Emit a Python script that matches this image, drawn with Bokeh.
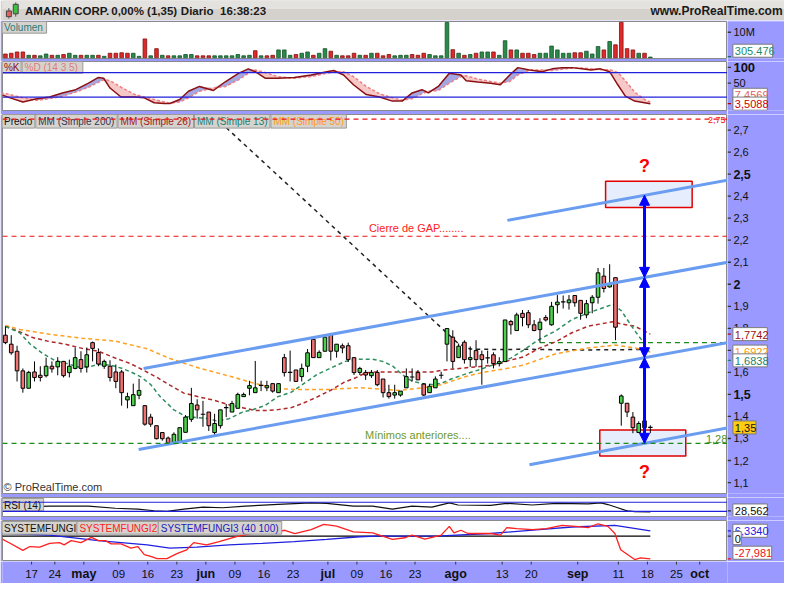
import numpy as np
from bokeh.plotting import figure
from bokeh.layouts import column, row
from bokeh.models import Range1d, Arrow, NormalHead, Span
from bokeh.core.properties import value
from bokeh.embed import file_html
from bokeh.resources import INLINE

# ---------------- data (bar index 0 = 11 Apr 2014, daily bars) ----------------
opens = [1.769, 1.728, 1.696, 1.607, 1.528, 1.602, 1.587, 1.585, 1.628, 1.625,
         1.650, 1.599, 1.618, 1.658, 1.625, 1.735, 1.690, 1.628, 1.628, 1.602,
         1.602, 1.475, 1.449, 1.496, 1.449, 1.397, 1.358, 1.327, 1.302, 1.280,
         1.287, 1.328, 1.387, 1.452, 1.412, 1.420, 1.327, 1.358, 1.437, 1.420,
         1.437, 1.490, 1.528, 1.508, 1.540, 1.530, 1.549, 1.508, 1.667, 1.603,
         1.611, 1.581, 1.628, 1.750, 1.667, 1.696, 1.772, 1.696, 1.721, 1.721,
         1.667, 1.600, 1.600, 1.585, 1.600, 1.570, 1.508, 1.497, 1.497, 1.530,
         1.578, 1.599, 1.547, 1.508, 1.530, 1.589, 1.728, 1.760, 1.667, 1.737,
         1.658, 1.699, 1.680, 1.667, 1.680, 1.640, 1.649, 1.831, 1.790, 1.868,
         1.871, 1.816, 1.794, 1.849, 1.816, 1.907, 1.920, 1.916, 1.949, 1.927,
         1.861, 1.916, 1.941, 2.037, 1.988, 2.030, 1.460, 1.460, 1.397, 1.327,
         1.380, 1.349]
highs = [1.809, 1.769, 1.721, 1.618, 1.607, 1.650, 1.628, 1.667, 1.650, 1.669,
         1.652, 1.658, 1.713, 1.696, 1.713, 1.740, 1.709, 1.658, 1.655, 1.636,
         1.611, 1.508, 1.549, 1.571, 1.452, 1.412, 1.358, 1.327, 1.309, 1.328,
         1.350, 1.406, 1.530, 1.478, 1.471, 1.420, 1.412, 1.430, 1.456, 1.471,
         1.508, 1.508, 1.562, 1.652, 1.562, 1.562, 1.549, 1.549, 1.684, 1.699,
         1.611, 1.640, 1.706, 1.750, 1.700, 1.772, 1.779, 1.728, 1.731, 1.735,
         1.667, 1.625, 1.611, 1.611, 1.611, 1.570, 1.544, 1.544, 1.515, 1.618,
         1.618, 1.611, 1.552, 1.547, 1.582, 1.603, 1.799, 1.791, 1.731, 1.746,
         1.718, 1.746, 1.699, 1.699, 1.691, 1.669, 1.838, 1.838, 1.871, 1.883,
         1.883, 1.838, 1.846, 1.860, 1.920, 1.951, 1.949, 1.951, 1.949, 1.927,
         1.929, 1.951, 2.074, 2.074, 2.091, 2.030, 1.500, 1.460, 1.420, 1.378,
         1.387, 1.360]
lows = [1.728, 1.680, 1.559, 1.508, 1.528, 1.559, 1.559, 1.577, 1.599, 1.587,
        1.577, 1.577, 1.614, 1.599, 1.599, 1.650, 1.628, 1.616, 1.559, 1.528,
        1.449, 1.437, 1.449, 1.478, 1.358, 1.353, 1.296, 1.290, 1.275, 1.280,
        1.287, 1.328, 1.375, 1.390, 1.353, 1.334, 1.316, 1.345, 1.397, 1.420,
        1.437, 1.490, 1.496, 1.508, 1.515, 1.515, 1.508, 1.508, 1.581, 1.559,
        1.559, 1.559, 1.601, 1.667, 1.667, 1.696, 1.654, 1.667, 1.687, 1.647,
        1.588, 1.588, 1.566, 1.575, 1.537, 1.486, 1.481, 1.481, 1.490, 1.530,
        1.559, 1.566, 1.493, 1.508, 1.530, 1.571, 1.650, 1.618, 1.667, 1.640,
        1.625, 1.625, 1.544, 1.640, 1.618, 1.627, 1.649, 1.772, 1.790, 1.809,
        1.801, 1.787, 1.735, 1.831, 1.812, 1.868, 1.890, 1.885, 1.898, 1.839,
        1.846, 1.868, 1.912, 1.963, 1.985, 1.746, 1.358, 1.397, 1.324, 1.327,
        1.324, 1.324]
closes = [1.735, 1.689, 1.607, 1.528, 1.600, 1.577, 1.577, 1.628, 1.616, 1.650,
          1.585, 1.628, 1.667, 1.618, 1.680, 1.709, 1.638, 1.650, 1.577, 1.559,
          1.508, 1.490, 1.499, 1.518, 1.365, 1.365, 1.299, 1.299, 1.280, 1.319,
          1.349, 1.397, 1.459, 1.430, 1.410, 1.358, 1.368, 1.430, 1.440, 1.459,
          1.500, 1.500, 1.540, 1.530, 1.541, 1.540, 1.515, 1.549, 1.599, 1.600,
          1.559, 1.618, 1.689, 1.667, 1.691, 1.760, 1.696, 1.728, 1.711, 1.658,
          1.599, 1.618, 1.588, 1.600, 1.544, 1.508, 1.490, 1.508, 1.515, 1.581,
          1.579, 1.566, 1.497, 1.537, 1.570, 1.587, 1.799, 1.650, 1.719, 1.658,
          1.667, 1.658, 1.658, 1.666, 1.640, 1.649, 1.838, 1.816, 1.861, 1.849,
          1.816, 1.790, 1.828, 1.838, 1.900, 1.919, 1.920, 1.929, 1.916, 1.868,
          1.912, 1.941, 2.052, 1.981, 2.000, 1.805, 1.493, 1.420, 1.349, 1.368,
          1.349, 1.350]
volumes_m = [1.5, 1.8, 2.3, 2.3, 1.0, 1.0, 0.8, 1.5, 1.0, 1.0,
             1.3, 1.8, 1.0, 1.0, 1.0, 1.0, 1.0, 0.6, 1.8, 1.8,
             2.0, 1.8, 1.8, 0.6, 7.4, 0.8, 3.6, 1.0, 0.8, 0.8,
             0.8, 1.3, 1.3, 0.8, 0.8, 0.8, 0.8, 0.8, 0.8, 0.8,
             1.3, 0.8, 1.0, 2.8, 0.8, 0.8, 1.0, 3.1, 3.1, 1.0,
             1.3, 1.8, 2.3, 1.0, 1.8, 3.6, 2.6, 1.0, 0.8, 0.8,
             1.8, 1.0, 1.0, 1.8, 1.8, 0.8, 1.3, 0.8, 1.0, 1.0,
             1.3, 1.0, 1.8, 1.3, 0.8, 0.8, 13.8, 3.2, 1.8, 1.0,
             1.3, 1.8, 2.3, 2.3, 2.3, 1.0, 6.7, 3.1, 3.1, 1.8,
             1.8, 1.3, 1.8, 1.8, 4.6, 3.1, 1.8, 1.8, 2.0, 2.0,
             2.6, 1.5, 4.4, 3.1, 6.4, 5.1, 13.9, 3.6, 3.1, 1.8,
             1.8, 0.305]

sma13_x = [0, 2.5, 4.2, 6.4, 8.4, 10.5, 12.6, 14.3, 16, 18, 20, 21.6, 23.3, 25, 26.6, 29, 31, 33,
           35, 36.3, 38.5, 40.8, 42.5, 44.7, 46.9, 49.2, 51.4, 53.6, 56, 58.5, 61, 63.2, 64.9,
           66.6, 68.3, 70, 71.7, 73.4, 75, 76.7, 78.9, 81.3, 83.5, 85.7, 87, 89.1, 91.9, 94.8,
           97.5, 100.3, 102.5, 104.6, 106, 108.3, 110, 111]
sma13_y = [1.809, 1.779, 1.730, 1.686, 1.655, 1.641, 1.624, 1.624, 1.637, 1.633, 1.619, 1.602,
           1.580, 1.545, 1.491, 1.430, 1.400, 1.395, 1.390, 1.380, 1.390, 1.420, 1.430, 1.450,
           1.490, 1.510, 1.550, 1.590, 1.620, 1.650, 1.660, 1.660, 1.650, 1.630, 1.590, 1.560,
           1.550, 1.545, 1.550, 1.570, 1.590, 1.610, 1.630, 1.650, 1.665, 1.700, 1.750, 1.790,
           1.840, 1.870, 1.890, 1.910, 1.880, 1.790, 1.730, 1.684]
sma26_x = [0, 2.5, 4.7, 7.6, 10.5, 13.2, 16, 18.9, 21.6, 23.9, 26.1, 28.3, 30.7, 33.4, 35.7,
           38.5, 40.8, 43, 44.7, 46.9, 49.2, 51.4, 53.6, 56, 58.2, 60.3, 62, 63.7, 67.8, 71.2,
           73.4, 75.5, 78.9, 82.3, 84.7, 86.8, 89.1, 91.9, 94.8, 97.5, 100.3, 102.5, 104.6,
           106, 108.3, 111]
sma26_y = [1.809, 1.784, 1.758, 1.740, 1.727, 1.709, 1.696, 1.665, 1.639, 1.608, 1.577, 1.542,
           1.506, 1.488, 1.475, 1.453, 1.440, 1.427, 1.427, 1.431, 1.440, 1.462, 1.488, 1.519,
           1.554, 1.576, 1.598, 1.602, 1.602, 1.602, 1.602, 1.611, 1.620, 1.628, 1.637, 1.655,
           1.670, 1.710, 1.740, 1.780, 1.810, 1.820, 1.830, 1.820, 1.810, 1.774]
sma50_x = [0, 2.5, 7.6, 13.2, 18.9, 24.4, 28.3, 33.4, 39, 42.5, 46.4, 50.3, 55.4, 61, 67.8,
           72.2, 75, 78.9, 82.3, 85.7, 89, 94.8, 100.3, 104.9, 108.3, 111]
sma50_y = [1.813, 1.795, 1.773, 1.755, 1.742, 1.707, 1.663, 1.619, 1.580, 1.553, 1.527, 1.522,
           1.522, 1.531, 1.518, 1.531, 1.544, 1.579, 1.601, 1.615, 1.632, 1.685, 1.711, 1.724,
           1.711, 1.692]
sma200_x = [35, 40, 45, 50, 55, 60, 65, 70, 75, 78, 80, 85, 90, 95, 100, 105, 111]
sma200_y = [2.785, 2.662, 2.540, 2.418, 2.295, 2.172, 2.049, 1.926, 1.803, 1.730, 1.706, 1.704,
            1.705, 1.703, 1.702, 1.703, 1.704]

# drawn channel / projection lines (bar, price)
chan_low_x, chan_low_y = [22.93, 124.3], [1.250, 1.735]
chan_up_x, chan_up_y = [23.78, 124.3], [1.618, 2.100]
proj_top_x, proj_top_y = [86.4, 124.3], [2.290, 2.473]
proj_bot_x, proj_bot_y = [90.2, 124.3], [1.181, 1.348]
arrow_bar = 110
box_top = [103.3, 118.2, 2.348, 2.468]
box_bot = [102.3, 117.1, 1.221, 1.338]
lvl_top_red = 2.75
lvl_gap = 2.218
lvl_prev_low = 1.278
lvl_support = 1.735
support_from = 92

# stochastic (14 3 5)
sto_x = [-0.8, 0.8, 3, 5.4, 7.6, 9.8, 12.1, 14.3, 16, 16.9, 18, 19.9, 22.3, 23.9, 25.6, 27.3,
         28.3, 30, 31.5, 33.4, 35.8, 37.9, 40.1, 41.8, 43, 44.7, 46.9, 49.7, 52.6, 55.3, 56.5,
         58.2, 59.9, 62.1, 64.4, 66.6, 68.3, 70, 71.7, 72.8, 74.5, 76.4, 78.4, 79.3, 81.3, 83.5,
         85.2, 86.8, 88.2, 90.2, 92.4, 94.1, 95.8, 97.5, 99.2, 100.8, 102.4, 104, 105.4, 106.7,
         108.3, 110, 111]
sto_k = [26, 18, 8, 16, 20, 30, 38, 54, 68, 66, 42, 20, 20, 18, 6, 4, 4, 14, 34, 46, 36, 58, 78,
         89, 82, 66, 66, 68, 74, 82, 85, 74, 50, 26, 20, 10, 10, 30, 38, 30, 46, 78, 74, 60, 57,
         54, 50, 74, 92, 86, 82, 89, 92, 92, 89, 86, 89, 82, 50, 22, 10, 6, 3.5]
sto_d = [30, 26, 18, 12, 16, 22, 32, 44, 56, 62, 60, 44, 26, 20, 14, 8, 5, 8, 18, 34, 42, 46, 62,
         78, 86, 80, 70, 66, 70, 78, 82, 82, 70, 46, 28, 18, 12, 16, 28, 34, 36, 54, 70, 72, 64,
         58, 54, 58, 74, 86, 86, 85, 88, 91, 91, 89, 87, 87, 80, 60, 32, 14, 7.5]

# RSI (14)
rsi_x = [-0.8, 2.5, 7.6, 14.3, 18.9, 22.8, 25.6, 27.8, 30.7, 34, 37.4, 41.3, 46.9, 52.6, 55.3,
         59.9, 63.2, 66.6, 70, 73.4, 76.4, 77.9, 83.5, 86.3, 90.7, 94.8, 100.3, 102.5, 103.7,
         105.4, 106.6, 107.1, 108.3, 111]
rsi_v = [44, 49, 53, 53, 44, 40, 33, 30, 40, 49, 46, 53, 60.5, 67, 65, 53, 53, 40, 53, 49, 67, 58,
         56, 65, 58, 65, 63, 67, 60, 46, 36, 33, 29, 28.6]

# SYSTEMFUNGI2 (red) and SYSTEMFUNGI3 (blue)
fr_x = [-0.8, 0.8, 3, 4.2, 5.9, 7.6, 9.3, 10.1, 11.3, 13, 14.8, 16, 17.2, 18.2, 19.9, 21.6, 22.8,
        23.9, 25, 26.1, 27.8, 29.5, 31.2, 32.4, 34.6, 36.8, 39.6, 41.8, 43.5, 45.9, 48.1, 49.8,
        52.6, 54.8, 57, 59.9, 63.2, 66.6, 68.8, 70, 72.2, 75, 76.4, 77.2, 78.4, 79.6, 83.5, 85.2,
        86.3, 88, 90.7, 93.1, 95.8, 98.1, 100.3, 102, 103.7, 104.9, 105.9, 108.3, 109.3, 111]
fr_v = [-2.8, -8.8, -17.6, -12.8, -13.6, -8.8, -8, -10.8, -5.6, -8, -1.6, -5.6, -5.6, -9.6, -9.6,
        -14.8, -12.8, -22.8, -24.8, -27.6, -27.6, -21.6, -16.8, -8, -10.8, -6.8, -0.8, 2.4, 4.4,
        4.4, 7.2, 3.2, 8, 14.4, 12.4, 5.2, 4, -4, -2, 1.2, -3.6, 1.2, 12, 4, 7.2, 3.2, 3.2, 1.2,
        10.4, 9.2, 8, 9.2, 13.2, 12, 10.4, 15.2, 12, 3.2, -16.8, -28.8, -26.8, -28]
fb_x = [-0.8, 7.6, 16, 24.4, 28.3, 32.9, 38.5, 44.2, 49.7, 55.3, 61, 64.9, 66.6, 75, 83.5, 91.9,
        97.5, 104.9, 111]
fb_v = [3.5, 1.2, -5.6, -10.8, -14.8, -13.6, -10.8, -8.8, -6.8, -4, -0.8, 0.4, 0.0, 0.4, 3.2, 8,
        11.2, 13.2, 6.334]
zero_x = [-1, 111]

# axis ticks
tick_bars = [4, 8, 13, 19, 24, 29, 34, 39, 44, 49, 55, 60, 65, 70, 77, 85, 90, 98, 105, 110, 115, 119]
tick_text = ["17", "24", "may", "09", "16", "23", "jun", "09", "16", "23", "jul", "09", "16", "23",
             "ago", "13", "20", "sep", "11", "18", "25", "oct"]
month_names = ["may", "jun", "jul", "ago", "sep", "oct"]
price_ticks = [1.1, 1.2, 1.3, 1.4, 1.5, 1.6, 1.7, 1.8, 1.9, 2.0, 2.1, 2.2, 2.3, 2.4, 2.5, 2.6, 2.7]
price_labels = ["1,1", "1,2", "1,3", "1,4", "1,5", "1,6", "1,7", "1,8", "1,9", "2", "2,1", "2,2",
                "2,3", "2,4", "2,5", "2,6", "2,7"]
price_bold = [1.5, 2.0, 2.5]

# ---------------- styling helpers ----------------
PURPLE = "#9999ff"
FONT = "Liberation Sans"
BOXBG = "#d6d3ce"
BOXLINE = "#9a9a9a"
GREEN = "#4cd14c"
RED = "#f07272"


def kx(px):
    return (px - 5.0) / 5.93


def py(y):
    return 2.0 - (y - 291.7) / 226.7


def vy(y):
    return -0.25 + (60.0 - y) * 14.45 / 38.0


def sy(y):
    return -13.0 + (113.0 - y) * 120.0 / 50.0


def ry(y):
    return 8.1 + (531.0 - y) * 82.5 / 20.0


def fy(y):
    return -31.2 + (577.0 - y) * 50.4 / 42.0


XR = Range1d(kx(2), kx(742))


def panel(frame_h, y0, y1, bottom, top=0):
    p = figure(frame_width=725, frame_height=frame_h, x_range=XR, y_range=Range1d(y0, y1),
               output_backend="svg", toolbar_location=None, tools="",
               x_axis_location=None, y_axis_location=None,
               min_border_left=2, min_border_right=0, min_border_top=top, min_border_bottom=bottom,
               background_fill_color="white", border_fill_color=PURPLE,
               outline_line_color="#8a8a8a")
    p.grid.visible = False
    s = figure(frame_width=57, frame_height=frame_h, x_range=Range1d(742, 800), y_range=p.y_range,
               output_backend="svg", toolbar_location=None, tools="",
               x_axis_location=None, y_axis_location=None,
               min_border_left=0, min_border_right=0, min_border_top=top, min_border_bottom=bottom,
               background_fill_color=PURPLE, border_fill_color=PURPLE, outline_line_color=None)
    s.grid.visible = False
    return p, s


def tag(p, conv, x0, x1, y0, y1, text, color):
    p.quad(left=[kx(x0)], right=[kx(x1)], top=[conv(y0)], bottom=[conv(y1)],
           fill_color=BOXBG, line_color=BOXLINE, line_width=1)
    p.text(x=[kx(x0 + 2.5)], y=[conv((y0 + y1) / 2.0 + 0.5)], text=[text], text_color=color,
           text_font=value(FONT), text_font_size="10px", text_baseline="middle")


def s_tick(s, yv, color="#333333"):
    s.segment(x0=[742], x1=[745.5], y0=[yv], y1=[yv], line_color=color, line_width=1.3)


def s_text(s, yv, text, bold=False, size="11px", color="#111111"):
    s.text(x=[748], y=[yv], text=[text], text_color=color, text_font=value(FONT),
           text_font_size=size, text_font_style="bold" if bold else "normal",
           text_baseline="middle")


def s_box(s, conv, yc, text, color, x1=782.5, bg="white"):
    s.quad(left=[747.5], right=[x1], top=[conv(yc - 6.7)], bottom=[conv(yc + 6.7)],
           fill_color=bg, line_color="#7a7a7a", line_width=1)
    s.text(x=[749.5], y=[conv(yc + 0.5)], text=[text], text_color=color, text_font=value(FONT),
           text_font_size="11px", text_baseline="middle")


idx = np.arange(len(closes))
o = np.array(opens)
h = np.array(highs)
l = np.array(lows)
c = np.array(closes)

# ---------------- header ----------------
hp = figure(frame_width=784, frame_height=20, x_range=Range1d(0, 800), y_range=Range1d(21, 0),
            output_backend="svg", toolbar_location=None, tools="",
            x_axis_location=None, y_axis_location=None, min_border=0,
            background_fill_color="#d5d2cd", border_fill_color="#d5d2cd", outline_line_color=None)
hp.grid.visible = False
hp.quad(left=[0], right=[800], top=[0], bottom=[9], fill_color="#e4e2de", line_color=None)
hp.segment(x0=[6.5, 13.5], y0=[8, 2], x1=[6.5, 13.5], y1=[19, 17], line_color="#555555", line_width=1)
hp.quad(left=[4, 11], right=[9, 16], top=[11, 4], bottom=[17, 14], fill_color=["#e86060", "#40c040"],
        line_color="#444444", line_width=1)
hp.text(x=[23, 111, 182, 222], y=[11, 11, 11, 11],
        text=["AMARIN CORP.", "0,00% (1,35)", "Diario", "16:38:23"],
        text_font=value(FONT), text_font_size="11.5px", text_font_style="bold",
        text_color="#1a1a1a", text_baseline="middle")
hp.text(x=[796], y=[11], text=["www.ProRealTime.com"], text_font=value(FONT),
        text_font_size="12px", text_font_style="bold", text_color="#1a1a1a",
        text_baseline="middle", text_align="right")

# ---------------- volume ----------------
pv, sv = panel(37, vy(60), vy(22), bottom=3, top=1)
prev = np.concatenate([[o[0]], c[:-1]])
upv = c >= prev
pv.vbar(x=idx, top=volumes_m, bottom=0, width=0.62,
        fill_color=list(np.where(upv, "#2a8a4a", "#e02a2a")),
        line_color=list(np.where(upv, "#14502a", "#801010")), line_width=0.8)
tag(pv, vy, 1, 47, 22, 34, "Volumen", "#2a7a7a")
s_tick(sv, 10)
s_text(sv, 10, "10M")
s_tick(sv, vy(58), "#1f6a5a")
s_box(sv, vy, 52, "305.476", "#1f8a6a", x1=788)

# ---------------- stochastic ----------------
ps, ss = panel(49, sy(113), sy(63), bottom=4)
K = np.array(sto_k, dtype=float)
D = np.array(sto_d, dtype=float)
ps.varea(x=sto_x, y1=D, y2=np.maximum(K, D), fill_color="#a3a8e4")
ps.varea(x=sto_x, y1=K, y2=np.maximum(K, D), fill_color="#f6c8c8")
ps.add_layout(Span(location=80, dimension="width", line_color="#2020dd", line_width=1.2))
ps.add_layout(Span(location=20, dimension="width", line_color="#2020dd", line_width=1.2))
ps.line(sto_x, sto_d, line_color="#f08080", line_width=1.5, line_dash="3 2")
ps.line(sto_x, sto_k, line_color="#8b1010", line_width=1.5)
tag(ps, sy, 1, 21, 63, 75, "%K", "#8b1010")
tag(ps, sy, 22, 84, 63, 75, "%D (14 3 5)", "#e07a7a")
s_tick(ss, sy(69))
s_text(ss, sy(69.5), "100", bold=True, size="13px")
s_tick(ss, sy(85))
s_text(ss, sy(85), "50")
s_box(ss, sy, 97, "7,4569", "#e06060")
s_tick(ss, sy(106), "#aa0000")
s_box(ss, sy, 106, "3,5088", "#cc0000")

# ---------------- price ----------------
pp, sp = panel(379, py(507), py(117), bottom=4)
for lv in (lvl_top_red, lvl_gap):
    pp.add_layout(Span(location=lv, dimension="width", line_color="#ee1111", line_width=1.2,
                       line_dash="5 4"))
pp.add_layout(Span(location=lvl_prev_low, dimension="width", line_color="#1a8a1a",
                   line_width=1.2, line_dash="5 4"))
pp.line([support_from, 125], [lvl_support, lvl_support], line_color="#1a8a1a", line_width=1.2,
        line_dash="5 4")
pp.quad(left=[box_top[0]], right=[box_top[1]], bottom=[box_top[2]], top=[box_top[3]],
        fill_color="#e6edfc", line_color="#e00000", line_width=1.5)
pp.quad(left=[box_bot[0]], right=[box_bot[1]], bottom=[box_bot[2]], top=[box_bot[3]],
        fill_color="#e6edfc", line_color="#e00000", line_width=1.5)
pp.line(sma200_x, sma200_y, line_color="#222222", line_width=1.5, line_dash="4 4")
pp.line(sma50_x, sma50_y, line_color="#ffa020", line_width=1.5, line_dash="4 3")
pp.line(sma26_x, sma26_y, line_color="#b02828", line_width=1.5, line_dash="4 3")
pp.line(sma13_x, sma13_y, line_color="#2f8f5f", line_width=1.5, line_dash="4 3")

doji = np.abs(c - o) < 0.004
body = ~doji
pp.segment(x0=idx, y0=h, x1=idx, y1=l, line_color="black", line_width=1)
pp.vbar(x=idx[body], top=np.maximum(o, c)[body], bottom=np.minimum(o, c)[body], width=0.62,
        fill_color=list(np.where(c > o, GREEN, RED)[body]), line_color="black", line_width=1)
pp.segment(x0=idx[doji] - 0.38, y0=c[doji], x1=idx[doji] + 0.38, y1=c[doji],
           line_color="black", line_width=1.2)

for xs, ys in ((chan_low_x, chan_low_y), (chan_up_x, chan_up_y),
               (proj_top_x, proj_top_y), (proj_bot_x, proj_bot_y)):
    pp.line(xs, ys, line_color="#6a9cf0", line_width=3)

a_top = float(np.interp(arrow_bar, proj_top_x, proj_top_y))
a_up = float(np.interp(arrow_bar, chan_up_x, chan_up_y))
a_low = float(np.interp(arrow_bar, chan_low_x, chan_low_y))
a_bot = float(np.interp(arrow_bar, proj_bot_x, proj_bot_y))
for ys, ye in ((a_up, a_top), (a_low, a_up), (a_bot, a_low)):
    pp.add_layout(Arrow(start=NormalHead(size=10, fill_color="#0000ff", line_color="#0000ff"),
                        end=NormalHead(size=10, fill_color="#0000ff", line_color="#0000ff"),
                        x_start=arrow_bar, y_start=ys, x_end=arrow_bar, y_end=ye,
                        line_color="#0000ff", line_width=3))

pp.text(x=[arrow_bar, arrow_bar], y=[py(170), py(485)], text=["?", "?"], text_color="#ff0000",
        text_font=value(FONT), text_font_size="18px", text_font_style="bold",
        text_align="center", text_baseline="middle")
pp.text(x=[kx(376)], y=[py(234)], text=["Cierre de GAP........"], text_color="#ff2020",
        text_font=value(FONT), text_font_size="11px", text_baseline="middle")
pp.text(x=[kx(372)], y=[py(447)], text=["Mínimos anteriores...."], text_color="#6f9a2a",
        text_font=value(FONT), text_font_size="11px", text_baseline="middle")
pp.text(x=[kx(720)], y=[py(451)], text=["1,28"], text_color="#4f8f2a",
        text_font=value(FONT), text_font_size="11px", text_baseline="middle")
pp.text(x=[kx(722)], y=[py(122.5)], text=["2,75"], text_color="#ee1111",
        text_font=value(FONT), text_font_size="9px", text_baseline="middle")
pp.text(x=[kx(3)], y=[py(500)], text=["© ProRealTime.com"], text_color="#333333",
        text_font=value(FONT), text_font_size="11px", text_baseline="middle")

tag(pp, py, 1, 35, 117, 131, "Precio", "#111111")
tag(pp, py, 36, 119, 117, 131, "MM (Simple 200)", "#333355")
tag(pp, py, 120, 197, 117, 131, "MM (Simple 26)", "#a01818")
tag(pp, py, 198, 275, 117, 131, "MM (Simple 13)", "#1f7f6f")
tag(pp, py, 276, 353, 117, 131, "MM (Simple 50)", "#ff9a20")

for t, s in zip(price_ticks, price_labels):
    s_tick(sp, t)
    if t in price_bold:
        s_text(sp, t, s, bold=True, size="12.5px")
    else:
        s_text(sp, t, s)
s_tick(sp, py(343), "#a01010")
s_box(sp, py, 343, "1,7742", "#a01010")
s_box(sp, py, 361, "1,6922", "#ff9900")
s_tick(sp, py(370), "#1f7f6f")
s_box(sp, py, 370, "1,6838", "#1f7f6f")
s_box(sp, py, 439, "1,35", "#111111", x1=771, bg="#ffcc11")

# ---------------- RSI ----------------
pr, sr = panel(19, ry(531), ry(511), bottom=4)
pr.add_layout(Span(location=70, dimension="width", line_color="#2020dd", line_width=1.2))
pr.add_layout(Span(location=30, dimension="width", line_color="#2020dd", line_width=1.2))
pr.line(rsi_x, rsi_v, line_color="#111111", line_width=1.2)
tag(pr, ry, 1, 44, 512, 525, "RSI (14)", "#111111")
s_tick(sr, ry(525))
s_box(sr, ry, 524.5, "28,562", "#111111")

# ---------------- SYSTEMFUNGI ----------------
pf, sf = panel(41, fy(577), fy(535), bottom=0)
pf.line(zero_x, [0, 0], line_color="#000000", line_width=1.2)
pf.line(fb_x, fb_v, line_color="#2020e0", line_width=1.3)
pf.line(fr_x, fr_v, line_color="#ff2020", line_width=1.3)
tag(pf, fy, 1, 78, 536, 549, "SYSTEMFUNGI", "#111111")
tag(pf, fy, 78, 161, 536, 549, "SYSTEMFUNGI2", "#ff2020")
tag(pf, fy, 161, 287, 536, 549, "SYSTEMFUNGI3 (40 100)", "#2020c0")
s_tick(sf, 6.334, "#2020e0")
s_box(sf, fy, 545.5, "6,3340", "#2020e0")
s_tick(sf, 0)
s_box(sf, fy, 553, "0", "#111111", x1=756)
s_tick(sf, -27.981, "#ee1111")
s_box(sf, fy, 568, "-27,981", "#ee1111", x1=787)

# ---------------- date axis ----------------
pa = figure(frame_width=725, frame_height=22, x_range=XR, y_range=Range1d(22, 0),
            output_backend="svg", toolbar_location=None, tools="",
            x_axis_location=None, y_axis_location=None,
            min_border_left=2, min_border_right=57, min_border_top=0, min_border_bottom=0,
            background_fill_color=PURPLE, border_fill_color=PURPLE, outline_line_color=None)
pa.grid.visible = False
xt = [b + 0.5 for b in tick_bars]
pa.segment(x0=xt, x1=xt, y0=[0] * len(xt), y1=[3] * len(xt), line_color="#333333", line_width=1)
norm_x = [t for t, s in zip(xt, tick_text) if s not in month_names]
norm_s = [s for s in tick_text if s not in month_names]
bold_x = [t for t, s in zip(xt, tick_text) if s in month_names]
bold_s = [s for s in tick_text if s in month_names]
pa.text(x=norm_x, y=[12] * len(norm_x), text=norm_s, text_color="#111111", text_font=value(FONT),
        text_font_size="11.5px", text_align="center", text_baseline="middle")
pa.text(x=bold_x, y=[12] * len(bold_x), text=bold_s, text_color="#111111", text_font=value(FONT),
        text_font_size="12.5px", text_font_style="bold", text_align="center", text_baseline="middle")

layout = column(hp, row(pv, sv), row(ps, ss), row(pp, sp), row(pr, sr), row(pf, sf), pa, spacing=0)
open("out.html", "w").write(file_html(layout, INLINE))
